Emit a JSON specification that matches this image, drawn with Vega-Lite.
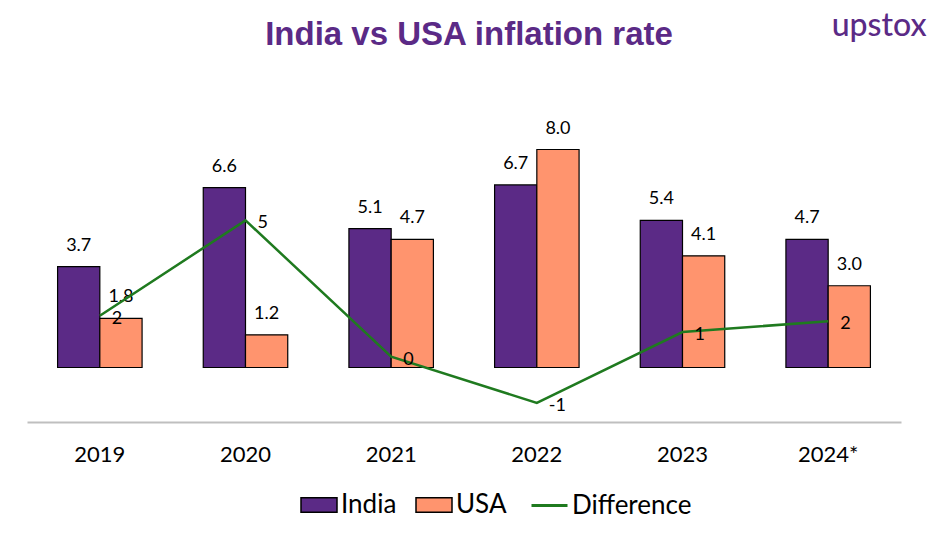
{
  "$schema": "https://vega.github.io/schema/vega-lite/v6.json",
  "autosize": "none",
  "width": 874,
  "height": 327,
  "padding": {"left": 27, "top": 95, "right": 39, "bottom": 124},
  "background": "white",
  "title": {
    "text": "India vs USA inflation rate",
    "font": "Liberation Sans",
    "fontSize": 33,
    "fontWeight": "bold",
    "color": "#5B2A86",
    "anchor": "middle",
    "baseline": "alphabetic",
    "dx": 5,
    "offset": -68
  },
  "data": {
    "values": [
      {"year": "2019", "series": "India", "value": 3.7},
      {"year": "2019", "series": "USA", "value": 1.8},
      {"year": "2019", "series": "Difference", "value": 1.9},
      {"year": "2020", "series": "India", "value": 6.6},
      {"year": "2020", "series": "USA", "value": 1.2},
      {"year": "2020", "series": "Difference", "value": 5.4},
      {"year": "2021", "series": "India", "value": 5.1},
      {"year": "2021", "series": "USA", "value": 4.7},
      {"year": "2021", "series": "Difference", "value": 0.4},
      {"year": "2022", "series": "India", "value": 6.7},
      {"year": "2022", "series": "USA", "value": 8.0},
      {"year": "2022", "series": "Difference", "value": -1.3},
      {"year": "2023", "series": "India", "value": 5.4},
      {"year": "2023", "series": "USA", "value": 4.1},
      {"year": "2023", "series": "Difference", "value": 1.3},
      {"year": "2024*", "series": "India", "value": 4.7},
      {"year": "2024*", "series": "USA", "value": 3.0},
      {"year": "2024*", "series": "Difference", "value": 1.7}
    ]
  },
  "encoding": {
    "x": {
      "field": "year",
      "type": "nominal",
      "sort": null,
      "scale": {"paddingInner": 0.42, "paddingOuter": 0.21},
      "axis": {
        "title": null,
        "labelAngle": 0,
        "labelFont": "Lato",
        "labelFontSize": 22,
        "labelColor": "#000000",
        "labelPadding": 22,
        "ticks": false,
        "domainColor": "#BFBFBF",
        "domainWidth": 2
      }
    }
  },
  "layer": [
    {
      "transform": [{"filter": "datum.series !== 'Difference'"}],
      "mark": {"type": "bar", "stroke": "#000000", "strokeWidth": 1.2},
      "encoding": {
        "xOffset": {"field": "series", "type": "nominal", "sort": ["India", "USA"], "scale": {"paddingInner": 0, "paddingOuter": 0}},
        "y": {"field": "value", "type": "quantitative", "scale": {"domain": [-2, 10], "nice": false, "zero": false}, "axis": null},
        "color": {
          "field": "series",
          "type": "nominal",
          "scale": {"domain": ["India", "USA"], "range": ["#5B2A86", "#FF946E"]},
          "legend": {
            "title": null,
            "orient": "none",
            "legendX": 273,
            "legendY": 391,
            "direction": "horizontal",
            "labelFont": "Lato",
            "labelFontSize": 26,
            "labelColor": "#000000",
            "labelOffset": 3,
            "columnPadding": 16,
            "symbolSize": 1296,
            "symbolType": "M-1,-0.4H1V0.4H-1Z",
            "symbolStrokeColor": "#000000",
            "symbolStrokeWidth": 1.5
          }
        }
      }
    },
    {
      "transform": [{"filter": "datum.series !== 'Difference'"}],
      "mark": {"type": "text", "dy": -21, "font": "Lato", "fontSize": 18, "color": "#000000"},
      "encoding": {
        "xOffset": {"field": "series", "type": "nominal", "sort": ["India", "USA"]},
        "y": {"field": "value", "type": "quantitative"},
        "text": {"field": "value", "type": "quantitative", "format": ".1f"}
      }
    },
    {
      "transform": [{"filter": "datum.series === 'Difference'"}],
      "mark": {"type": "line", "strokeWidth": 2.5},
      "encoding": {
        "y": {"field": "value", "type": "quantitative"},
        "stroke": {
          "field": "series",
          "type": "nominal",
          "scale": {"domain": ["Difference"], "range": ["#1F7A1F"]},
          "legend": {
            "title": null,
            "orient": "none",
            "legendX": 503,
            "legendY": 391,
            "labelFont": "Lato",
            "labelFontSize": 26,
            "labelColor": "#000000",
            "labelOffset": 3,
            "symbolSize": 1296,
            "symbolType": "stroke",
            "symbolStrokeWidth": 3
          }
        }
      }
    },
    {
      "transform": [{"filter": "datum.series === 'Difference'"}],
      "mark": {"type": "text", "dx": 12, "dy": 3, "align": "left", "font": "Lato", "fontSize": 18, "color": "#000000"},
      "encoding": {
        "y": {"field": "value", "type": "quantitative"},
        "text": {"field": "value", "type": "quantitative", "format": ".0f"}
      }
    },
    {
      "data": {"values": [{"logo": "upstox", "year": "2024*", "pos": 12.55}]},
      "mark": {"type": "text", "dx": 51, "font": "Lato", "fontSize": 32, "fontWeight": 500, "color": "#5B2A86", "clip": false},
      "encoding": {
        "y": {"field": "pos", "type": "quantitative"},
        "text": {"field": "logo"}
      }
    }
  ],
  "resolve": {"scale": {"y": "shared"}},
  "config": {
    "view": {"stroke": null},
    "locale": {"number": {"decimal": ".", "thousands": ",", "grouping": [3], "currency": ["$", ""], "minus": "-"}}
  }
}
